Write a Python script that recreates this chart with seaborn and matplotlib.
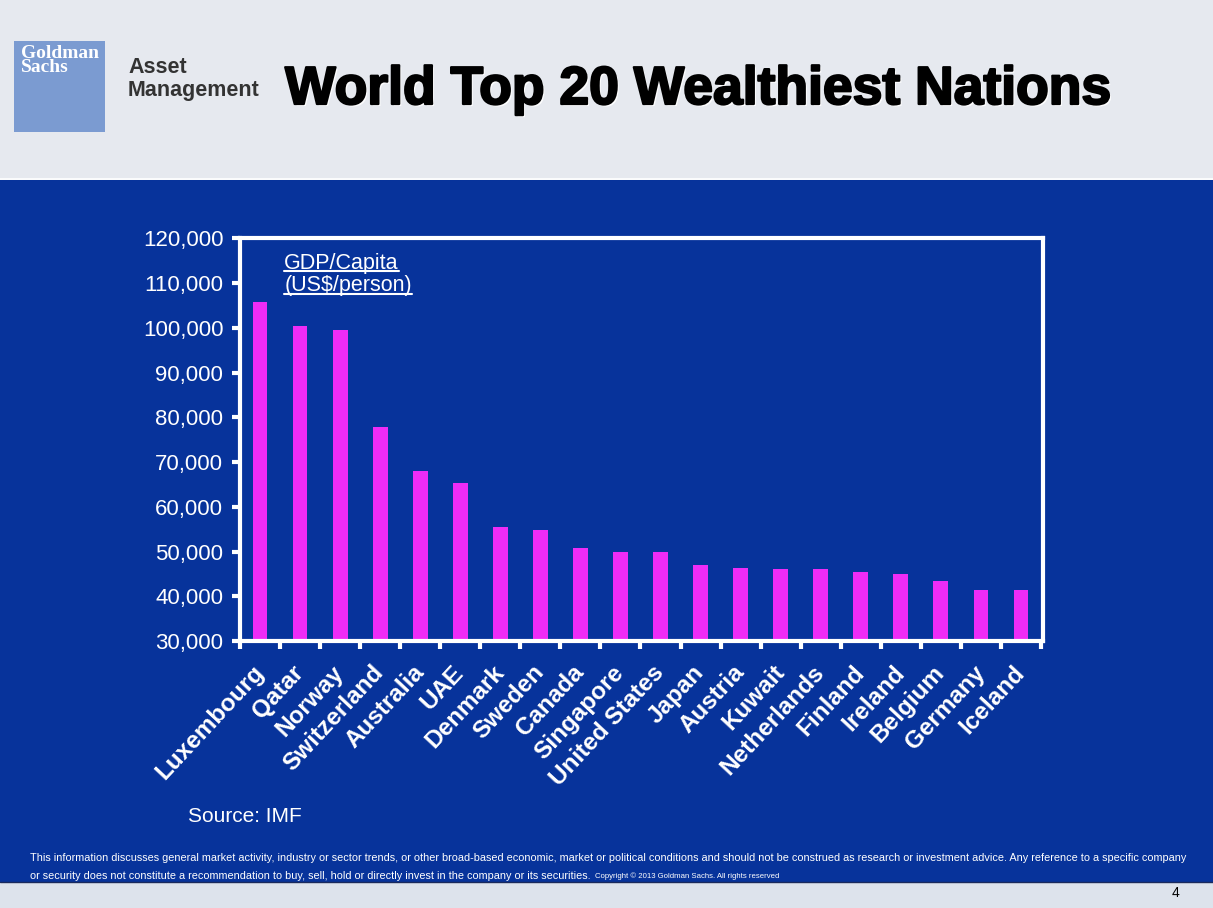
#!/usr/bin/env python3
"""World top 20 wealthiest nations - GDP per capita bar chart."""

import matplotlib
matplotlib.use("Agg")
import matplotlib.pyplot as plt
import matplotlib.patheffects as pe
from matplotlib.patches import Rectangle
from matplotlib.lines import Line2D
from matplotlib.ticker import FixedLocator, FuncFormatter
import pandas as pd
import seaborn as sns

# data
countries = [
    "Luxembourg", "Qatar", "Norway", "Switzerland", "Australia", "UAE",
    "Denmark", "Sweden", "Canada", "Singapore", "United States", "Japan",
    "Austria", "Kuwait", "Netherlands", "Finland", "Ireland", "Belgium",
    "Germany", "Iceland",
]
gdp_per_capita = [
    105700, 100300, 99400, 77800, 68100, 65400,
    55400, 54900, 50800, 49900, 49900, 47000,
    46400, 46100, 46100, 45500, 45000, 43500,
    41300, 41300,
]
y_ticks = [30000, 40000, 50000, 60000, 70000, 80000, 90000, 100000, 110000, 120000]

title = "World Top 20 Wealthiest Nations"
series_label = ["GDP/Capita", "(US$/person)"]
source_note = "Source: IMF"
disclaimer_1 = ("This information discusses general market activity, industry or sector trends, "
                "or other broad-based economic, market or political conditions and should not be "
                "construed as research or investment advice. Any reference to a specific company")
disclaimer_2 = ("or security does not constitute a recommendation to buy, sell, hold or directly "
                "invest in the company or its securities.")
copyright_note = "Copyright \u00a9 2013 Goldman Sachs. All rights reserved"

BLUE = "#07339b"
HEADER = "#e6e9ef"
BOTTOM = "#dde3ec"
MAGENTA = "#ee2cf6"
LOGO = "#7b9bd1"

sns.set_theme(style="white")
plt.rcParams["font.family"] = ["Liberation Sans", "DejaVu Sans"]

df = pd.DataFrame({"country": countries, "gdp": gdp_per_capita})

fig = plt.figure(figsize=(12.13, 9.08), dpi=100, facecolor=BLUE)

# slide background pieces
fig.patches.append(Rectangle((0, 1 - 180 / 908), 1, 180 / 908, transform=fig.transFigure,
                             facecolor=HEADER, edgecolor="none", zorder=0))
fig.patches.append(Rectangle((0, 0), 1, 26 / 908, transform=fig.transFigure,
                             facecolor=BOTTOM, edgecolor="none", zorder=0))
fig.lines.append(Line2D([0, 1], [1 - 179 / 908] * 2, transform=fig.transFigure,
                        color="white", lw=1.2))
fig.lines.append(Line2D([0, 1], [26 / 908] * 2, transform=fig.transFigure,
                        color="#1a2a5c", lw=1.0))

# logo block
fig.patches.append(Rectangle((14 / 1213, 1 - 132 / 908), 91 / 1213, 91 / 908,
                             transform=fig.transFigure, facecolor=LOGO, edgecolor="none"))
fig.text(21 / 1213, 1 - 45 / 908, "Goldman\nSachs", color="white", fontsize=14,
         family=["Liberation Serif", "DejaVu Serif"], fontweight="bold",
         ha="left", va="top", linespacing=0.8)
fig.text(128 / 1213, 1 - 57 / 908, "Asset\nManagement", color="#333333", fontsize=15.5,
         fontweight="bold", ha="left", va="top", linespacing=1.15)

fig.text(0.576, 1 - 90 / 908, title, fontsize=38.5, fontweight="bold", color="black",
         ha="center", va="center",
         path_effects=[pe.withSimplePatchShadow(offset=(1.5, -1.5), shadow_rgbFace="white",
                                                alpha=0.9),
                       pe.Stroke(linewidth=1.6, foreground="black"), pe.Normal()])

ax = fig.add_axes([240 / 1213, 1 - 641 / 908, 803 / 1213, 402.7 / 908])
ax.set_facecolor(BLUE)

sns.barplot(data=df, x="country", y="gdp", color=MAGENTA, width=0.37,
            saturation=1, linewidth=0, edgecolor=MAGENTA, ax=ax, zorder=2)

ax.set_ylim(30000, 120000)
ax.set_xlim(-0.45, 19.55)
ax.yaxis.set_major_locator(FixedLocator(y_ticks))
ax.yaxis.set_major_formatter(FuncFormatter(lambda v, _: f"{int(v):,}"))
ax.set_xlabel("")
ax.set_ylabel("")

for s in ax.spines.values():
    s.set_visible(True)
    s.set_color("white")
    s.set_linewidth(3)
    s.set_zorder(3)

ax.tick_params(axis="y", colors="white", labelsize=16, length=6, width=3,
               direction="out", left=True, pad=6)
ax.tick_params(axis="x", which="major", colors="white", length=0, pad=20)
ax.set_xticks([i + 0.5 for i in range(-1, 20)], minor=True)
ax.tick_params(axis="x", which="minor", colors="white", length=6, width=3,
               direction="out", bottom=True)
for lab in ax.get_xticklabels():
    lab.set_rotation(47)
    lab.set_ha("right")
    lab.set_va("center")
    lab.set_rotation_mode("anchor")
    lab.set_fontsize(17.5)
    lab.set_fontweight("bold")
    lab.set_color("white")

# underlined series label
t1 = ax.text(0.055, 0.925, series_label[0], transform=ax.transAxes, color="white",
             fontsize=15.5, ha="left", va="baseline")
t2 = ax.text(0.055, 0.868, series_label[1], transform=ax.transAxes, color="white",
             fontsize=15.5, ha="left", va="baseline")
fig.canvas.draw()
renderer = fig.canvas.get_renderer()
inv = fig.transFigure.inverted()
for t in (t1, t2):
    bb = t.get_window_extent(renderer)
    (x0, _), (x1, _) = inv.transform([(bb.x0, 0), (bb.x1, 0)])
    yb = inv.transform(ax.transAxes.transform((0, t.get_position()[1])))[1] - 2.5 / 908
    fig.lines.append(Line2D([x0, x1], [yb, yb], transform=fig.transFigure,
                            color="white", lw=1.5))

fig.text(188 / 1213, 1 - 817 / 908, source_note, color="white", fontsize=15,
         ha="left", va="center")

fig.text(30 / 1213, 1 - 858 / 908, disclaimer_1, color="white", fontsize=7.85,
         ha="left", va="center")
t_d2 = fig.text(30 / 1213, 1 - 876 / 908, disclaimer_2, color="white", fontsize=7.85,
                ha="left", va="center")
fig.canvas.draw()
bb = t_d2.get_window_extent(fig.canvas.get_renderer())
fig.text(inv.transform((bb.x1 + 4, 0))[0], 1 - 876 / 908, copyright_note, color="white",
         fontsize=5.6, ha="left", va="center")

fig.text(1175 / 1213, 1 - 893 / 908, "4", color="black", fontsize=10,
         ha="center", va="center")

fig.savefig("out.png", dpi=100, facecolor=BLUE)
